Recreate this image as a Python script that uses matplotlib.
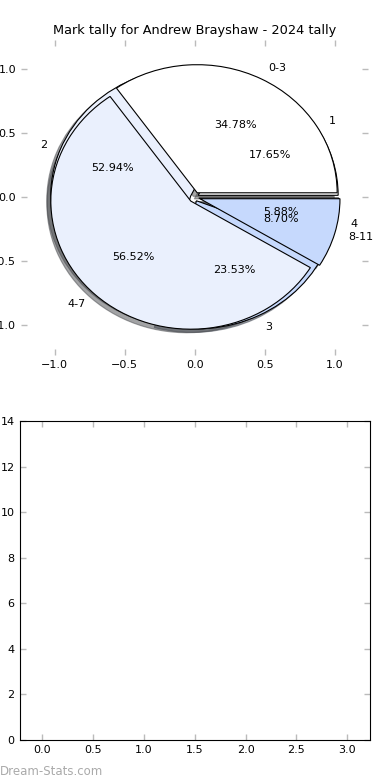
import matplotlib
matplotlib.use("Agg")
import matplotlib.pyplot as plt

# tally by quarter-ish groups (inner labels) and by round (outer labels)
group_labels = ['0-3', '4-7', '8-11']
group_counts = [8, 13, 2]
round_labels = ['1', '2', '3', '4']
round_counts = [3, 9, 4, 1]

pie_colors = ['#ffffff', '#eaf0fd', '#c6d9fd']

title = 'Mark tally for Andrew Brayshaw - 2024 tally'

bar_x = [0, 1, 2, 3]  # empty lower panel, nothing plotted
bar_ylim = (0, 14)

fig = plt.figure(figsize=(3.9, 7.8), dpi=100)

ax1 = fig.add_axes([0.054, 0.545, 0.89, 0.404])
wp = {'edgecolor': 'black', 'linewidth': 0.8}
ax1.pie(round_counts, labels=round_labels, colors=pie_colors + ['#ffffff'],
        autopct='%1.2f%%', explode=[0.03] * 4, shadow=True, wedgeprops=wp,
        textprops={'fontsize': 8})
ax1.pie(group_counts, labels=group_labels, colors=pie_colors,
        autopct='%1.2f%%', explode=[0.04] * 3, shadow=True, wedgeprops=wp,
        textprops={'fontsize': 8})
ax1.set_aspect('auto')
ax1.set_xlim(-1.24, 1.24)
ax1.set_ylim(-1.23, 1.23)
ax1.set_xticks([-1.0, -0.5, 0.0, 0.5, 1.0])
ax1.set_yticks([-1.0, -0.5, 0.0, 0.5, 1.0])
ax1.set_title(title, fontsize=9.3, pad=4)

ax2 = fig.add_axes([0.05, 0.0513, 0.899, 0.409])
ax2.set_xlim(-0.225, 3.225)
ax2.set_ylim(*bar_ylim)
ax2.set_xticks([0, 0.5, 1.0, 1.5, 2.0, 2.5, 3.0])
ax2.set_yticks(range(0, 15, 2))

for ax in (ax1, ax2):
    ax.tick_params(direction='in', length=4, width=1, color='#bbbbbb',
                   labelsize=8, top=True, right=True)

fig.text(0.0, 0.006, 'Dream-Stats.com', fontsize=8.5, color='#aaaaaa')

fig.savefig('out.png', dpi=100)
